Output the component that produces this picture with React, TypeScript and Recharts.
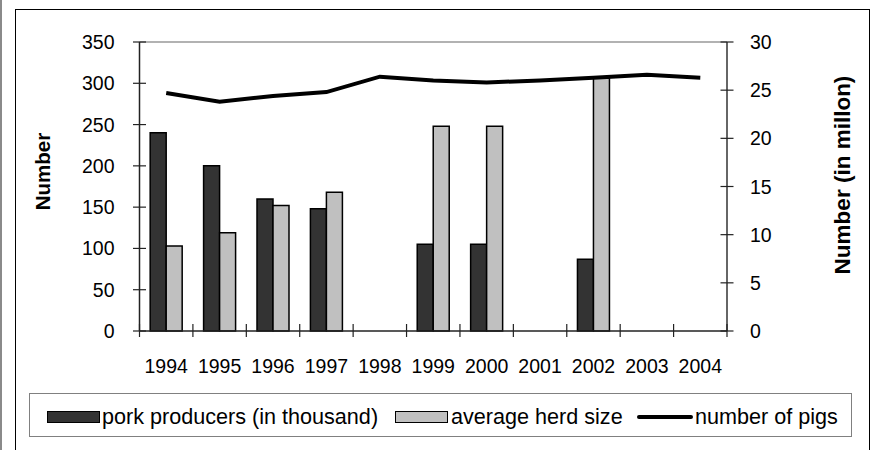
import React from 'react';
import { ComposedChart, Bar, Line, XAxis, YAxis, Legend, ReferenceLine } from 'recharts';

const years = ['1994', '1995', '1996', '1997', '1998', '1999', '2000', '2001', '2002', '2003', '2004'];
const porkProducers = [240, 200, 160, 148, null, 105, 105, null, 87, null, null];
const herdSize = [103, 119, 152, 168, null, 248, 248, null, 306, null, null];
const pigs = [24.7, 23.8, 24.4, 24.8, 26.4, 26.0, 25.8, 26.0, 26.3, 26.6, 26.3];
const leftTicks = [0, 50, 100, 150, 200, 250, 300, 350];
const rightTicks = [0, 5, 10, 15, 20, 25, 30];
const seriesNames = ['pork producers (in thousand)', 'average herd size', 'number of pigs'];

const data = years.map((y, i) => ({
  year: y,
  producers: porkProducers[i],
  herd: herdSize[i],
  pigs: pigs[i],
}));

const W = 871;
const H = 450;
const PLOT_LEFT = 139.5;
const PLOT_RIGHT = 727;
const PLOT_TOP = 42;
const PLOT_BOTTOM = 331;
const BAND = (PLOT_RIGHT - PLOT_LEFT) / years.length;
const FONT = '"Liberation Sans", Arial, Helvetica, sans-serif';
const AXIS_COLOR = '#222';

const LeftTick = (props: any) => {
  const { x, y, payload } = props;
  return (
    <g>
      <line x1={x - 6.5} x2={x + 6.5} y1={y} y2={y} stroke={AXIS_COLOR} strokeWidth={1.2} />
      <text x={x - 25} y={y} dy="0.36em" textAnchor="end" fontSize={19.5} fontFamily={FONT} fill="#000">
        {payload.value}
      </text>
    </g>
  );
};

const RightTick = (props: any) => {
  const { x, y, payload } = props;
  return (
    <g>
      <line x1={x - 6.5} x2={x + 6.5} y1={y} y2={y} stroke={AXIS_COLOR} strokeWidth={1.2} />
      <text x={x + 23} y={y} dy="0.36em" textAnchor="start" fontSize={19.5} fontFamily={FONT} fill="#000">
        {payload.value}
      </text>
    </g>
  );
};

const BottomTick = (props: any) => {
  const { x, y, payload, index } = props;
  const last = index === years.length - 1;
  return (
    <g>
      <line x1={x - BAND / 2} x2={x - BAND / 2} y1={y - 7} y2={y + 6} stroke={AXIS_COLOR} strokeWidth={1.2} />
      {last && (
        <line x1={x + BAND / 2} x2={x + BAND / 2} y1={y - 7} y2={y + 6} stroke={AXIS_COLOR} strokeWidth={1.2} />
      )}
      <text x={x} y={y + 42} textAnchor="middle" fontSize={19.5} fontFamily={FONT} fill="#000">
        {payload.value}
      </text>
    </g>
  );
};

const legendLefts = [17, 365, 607];

const LegendContent = (props: any) => {
  const raw = props.payload || [];
  const payload = [...raw].sort(
    (a: any, b: any) => seriesNames.indexOf(a.value) - seriesNames.indexOf(b.value)
  );
  return (
    <div
      style={{
        position: 'relative',
        width: 823,
        height: 44,
        boxSizing: 'border-box',
        border: '1px solid #808080',
        background: '#fff',
        fontFamily: FONT,
        fontSize: 21.6,
        color: '#000',
      }}
    >
      {payload.map((p: any, i: number) => {
        const isLine = p.type === 'line';
        return (
          <div
            key={i}
            style={{
              position: 'absolute',
              left: legendLefts[i],
              top: 2,
              height: 42,
              display: 'flex',
              alignItems: 'center',
              whiteSpace: 'nowrap',
            }}
          >
            {isLine ? (
              <span style={{ display: 'inline-block', width: 56, height: 4, background: '#000', borderRadius: 2 }} />
            ) : (
              <span
                style={{
                  display: 'inline-block',
                  width: 53,
                  height: 12,
                  boxSizing: 'border-box',
                  background: p.color,
                  border: '1.5px solid #000',
                }}
              />
            )}
            <span style={{ marginLeft: i === 1 ? 3 : 2 }}>{p.value}</span>
          </div>
        );
      })}
    </div>
  );
};

const LeftTitle = () => (
  <text
    x={50}
    y={171.5}
    transform="rotate(-90, 50, 171.5)"
    textAnchor="middle"
    fontSize={20.5}
    fontWeight="bold"
    fontFamily={FONT}
    fill="#000"
  >
    Number
  </text>
);

const RightTitle = () => (
  <text
    x={850}
    y={175}
    transform="rotate(-90, 850, 175)"
    textAnchor="middle"
    fontSize={22.5}
    fontWeight="bold"
    fontFamily={FONT}
    fill="#000"
  >
    Number (in millon)
  </text>
);

export default function App() {
  return (
    <div style={{ position: 'absolute', left: 0, top: 0, width: W, height: H, background: '#fff', overflow: 'hidden' }}>
      <div style={{ position: 'absolute', left: 0, top: 0, width: 2, height: H, background: '#8a8a8a' }} />
      <div
        style={{
          position: 'absolute',
          left: 15,
          top: 9,
          width: 855,
          height: 600,
          boxSizing: 'border-box',
          border: '1.5px solid #000',
        }}
      />
      <div style={{ position: 'absolute', left: 0, top: 0 }}>
        <ComposedChart
          width={W}
          height={H}
          data={data}
          margin={{ top: PLOT_TOP, right: 0, left: 0, bottom: H - PLOT_BOTTOM - 30 }}
          barCategoryGap="20%"
          barGap={0}
        >
          <XAxis
            dataKey="year"
            height={30}
            interval={0}
            axisLine={{ stroke: AXIS_COLOR, strokeWidth: 1.5 }}
            tickLine={false}
            tickSize={0}
            tickMargin={0}
            tick={<BottomTick />}
          />
          <YAxis
            yAxisId="left"
            width={PLOT_LEFT}
            domain={[0, 350]}
            ticks={leftTicks}
            interval={0}
            axisLine={{ stroke: AXIS_COLOR, strokeWidth: 1.5 }}
            tickLine={false}
            tickSize={0}
            tickMargin={0}
            tick={<LeftTick />}
            label={{ content: () => <LeftTitle /> }}
          />
          <YAxis
            yAxisId="right"
            orientation="right"
            width={W - PLOT_RIGHT}
            domain={[0, 30]}
            ticks={rightTicks}
            interval={0}
            axisLine={{ stroke: '#333', strokeWidth: 1.5 }}
            tickLine={false}
            tickSize={0}
            tickMargin={0}
            tick={<RightTick />}
            label={{ content: () => <RightTitle /> }}
          />
          <ReferenceLine yAxisId="left" y={350} stroke="#999" strokeWidth={1.5} />
          <Bar
            yAxisId="left"
            dataKey="producers"
            name={seriesNames[0]}
            fill="#333333"
            stroke="#000"
            strokeWidth={1.5}
            isAnimationActive={false}
          />
          <Bar
            yAxisId="left"
            dataKey="herd"
            name={seriesNames[1]}
            fill="#c0c0c0"
            stroke="#000"
            strokeWidth={1.5}
            isAnimationActive={false}
          />
          <Line
            yAxisId="right"
            type="linear"
            dataKey="pigs"
            name={seriesNames[2]}
            stroke="#000"
            strokeWidth={4}
            dot={false}
            activeDot={false}
            isAnimationActive={false}
          />
          <Legend
            layout="horizontal"
            align="center"
            verticalAlign="middle"
            width={823}
            wrapperStyle={{ left: 29, top: 393, width: 823, height: 44 }}
            content={<LegendContent />}
          />
        </ComposedChart>
      </div>
    </div>
  );
}
